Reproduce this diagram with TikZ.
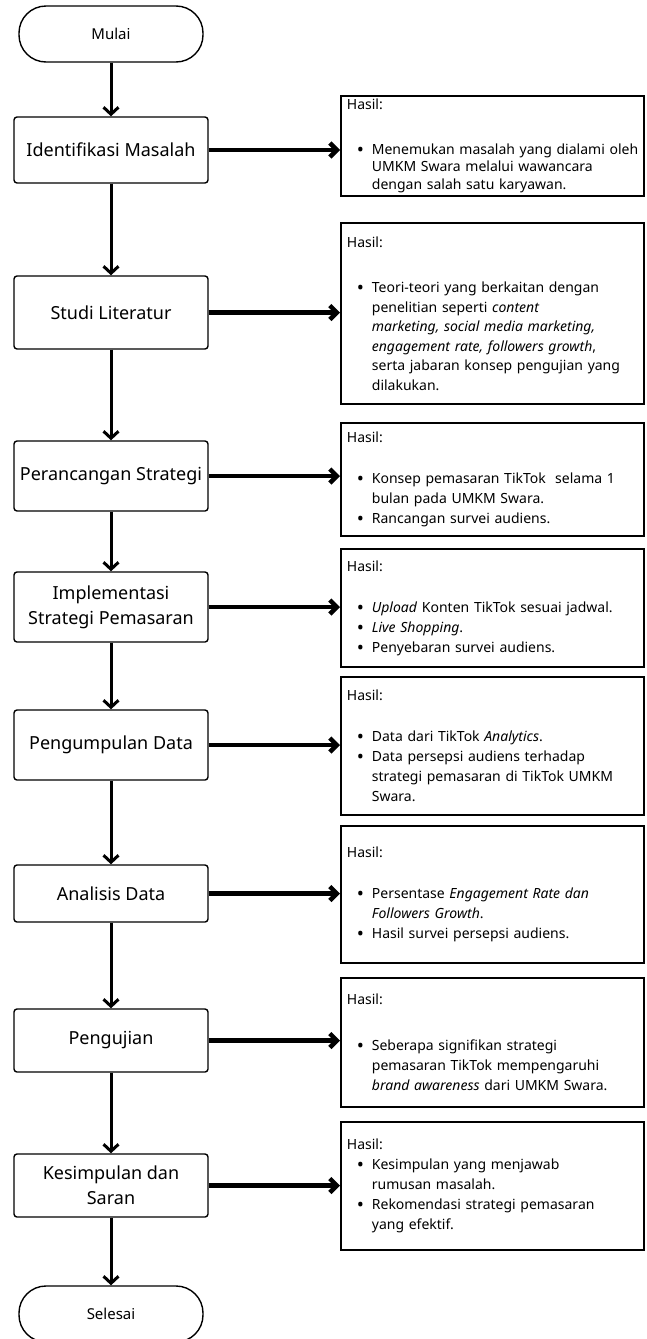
\documentclass[tikz,border=0pt]{standalone}
\usepackage{fontspec}
\setmainfont{Noto Sans}
\usetikzlibrary{arrows.meta}

% bullet line and continuation line inside the result boxes
\newcommand{\butir}[1]{\mbox{\makebox[25pt][l]{\hspace{10pt}\raisebox{-2pt}{\fontsize{19}{19}\selectfont\textbullet}}#1}}
\newcommand{\lanjut}[1]{\mbox{\hspace{25pt}#1}}

\begin{document}
\begin{tikzpicture}[x=1pt, y=-1pt,
    terminal/.style={draw, line width=1.4pt, rounded corners=27pt, minimum width=184pt, minimum height=56pt, font=\fontsize{15}{18}\selectfont},
    tahap/.style={draw, line width=1.4pt, rounded corners=3pt, minimum width=194pt, align=center, font=\fontsize{18}{25}\selectfont},
    hasil/.style={draw, line width=1.8pt, anchor=north west, text width=291pt, inner xsep=6pt, inner ysep=0pt, align=left, font=\fontsize{14}{20}\selectfont},
    turun/.style={-{Straight Barb[length=7pt,width=15pt]}, line width=3pt},
    kanan/.style={-{Straight Barb[length=7pt,width=14pt]}, line width=4.5pt}]
    \useasboundingbox (0,0) rectangle (647,1339);

    % Start / end
    \node[terminal] (mulai) at (111,34) {Mulai};
    \node[terminal] (selesai) at (111,1314) {Selesai};

    % Steps (left column)
    \node[tahap, minimum height=66pt] (identifikasi) at (111,150) {Identifikasi Masalah};
    \node[tahap, minimum height=73pt] (studi) at (111,312.5) {Studi Literatur};
    \node[tahap, minimum height=70pt] (rancang) at (111,476) {Perancangan Strategi};
    \node[tahap, minimum height=70pt] (implementasi) at (111,607) {Implementasi\\Strategi Pemasaran};
    \node[tahap, minimum height=70pt] (kumpul) at (111,745) {Pengumpulan Data};
    \node[tahap, minimum height=57pt] (analisis) at (111,893.5) {Analisis Data};
    \node[tahap, minimum height=63pt] (uji) at (111,1040.5) {Pengujian};
    \node[tahap, minimum height=63pt] (simpul) at (111,1185.5) {Kesimpulan dan\\Saran};

    % Results (right column)
    \node[hasil, minimum height=100pt, font=\fontsize{14}{17.5}\selectfont] (hasilA) at (340,95) {Hasil:\\[27pt]
        \butir{Menemukan masalah yang dialami oleh}\\
        \lanjut{UMKM Swara melalui wawancara}\\
        \lanjut{dengan salah satu karyawan.}};
    \node[hasil, minimum height=181pt, font=\fontsize{14}{19.5}\selectfont] (hasilB) at (340,222) {Hasil:\\[26pt]
        \butir{Teori-teori yang berkaitan dengan}\\
        \lanjut{penelitian seperti \emph{content}}\\
        \lanjut{\emph{marketing, social media marketing,}}\\
        \lanjut{\emph{engagement rate, followers growth},}\\
        \lanjut{serta jabaran konsep pengujian yang}\\
        \lanjut{dilakukan.}};
    \node[hasil, minimum height=113pt] (hasilC) at (340,422) {Hasil:\\[21pt]
        \butir{Konsep pemasaran TikTok\ \ selama 1}\\
        \lanjut{bulan pada UMKM Swara.}\\
        \butir{Rancangan survei audiens.}};
    \node[hasil, minimum height=118pt] (hasilD) at (340,548) {Hasil:\\[21pt]
        \butir{\emph{Upload} Konten TikTok sesuai jadwal.}\\
        \butir{\emph{Live Shopping}.}\\
        \butir{Penyebaran survei audiens.}};
    \node[hasil, minimum height=138pt] (hasilE) at (340,676) {Hasil:\\[21pt]
        \butir{Data dari TikTok \emph{Analytics}.}\\
        \butir{Data persepsi audiens terhadap}\\
        \lanjut{strategi pemasaran di TikTok UMKM}\\
        \lanjut{Swara.}};
    \node[hasil, minimum height=137pt] (hasilF) at (340,825) {Hasil:\\[21pt]
        \butir{Persentase \emph{Engagement Rate dan}}\\
        \lanjut{\emph{Followers Growth}.}\\
        \butir{Hasil survei persepsi audiens.}};
    \node[hasil, minimum height=129pt] (hasilG) at (340,977) {Hasil:\\[26pt]
        \butir{Seberapa signifikan strategi}\\
        \lanjut{pemasaran TikTok mempengaruhi}\\
        \lanjut{\emph{brand awareness} dari UMKM Swara.}};
    \node[hasil, minimum height=128pt] (hasilH) at (340,1121) {Hasil:\\
        \butir{Kesimpulan yang menjawab}\\
        \lanjut{rumusan masalah.}\\
        \butir{Rekomendasi strategi pemasaran}\\
        \lanjut{yang efektif.}};

    % Flow down
    \draw[turun] (mulai) -- (identifikasi);
    \draw[turun] (identifikasi) -- (studi);
    \draw[turun] (studi) -- (rancang);
    \draw[turun] (rancang) -- (implementasi);
    \draw[turun] (implementasi) -- (kumpul);
    \draw[turun] (kumpul) -- (analisis);
    \draw[turun] (analisis) -- (uji);
    \draw[turun] (uji) -- (simpul);
    \draw[turun] (simpul) -- (selesai);

    % Step -> result
    \draw[kanan] (identifikasi) -- (identifikasi -| hasilA.west);
    \draw[kanan] (studi) -- (studi -| hasilB.west);
    \draw[kanan] (rancang) -- (rancang -| hasilC.west);
    \draw[kanan] (implementasi) -- (implementasi -| hasilD.west);
    \draw[kanan] (kumpul) -- (kumpul -| hasilE.west);
    \draw[kanan] (analisis) -- (analisis -| hasilF.west);
    \draw[kanan] (uji) -- (uji -| hasilG.west);
    \draw[kanan] (simpul) -- (simpul -| hasilH.west);
\end{tikzpicture}
\end{document}
